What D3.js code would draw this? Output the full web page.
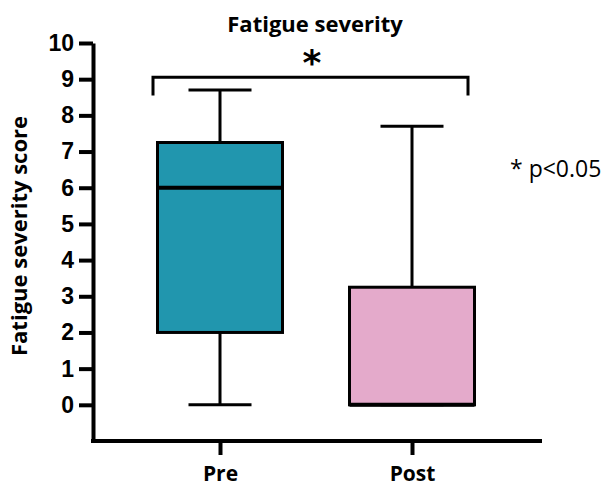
<!DOCTYPE html>
<html>
<head>
<meta charset="utf-8">
<script src="https://cdn.jsdelivr.net/npm/d3@7"></script>
<style>
  body { margin: 0; background: #fff; }
  text { fill: #000; }
</style>
</head>
<body>
<div id="chart"></div>
<script>
var width = 606,
    height = 488;

// box plot data
var groups = ["Pre", "Post"];
var whiskerLow = [0, 0];
var q1 = [2.0, 0];
var median = [6.0, 0];
var q3 = [7.25, 3.25];
var whiskerHigh = [8.7, 7.7];
var colors = ["#2196ae", "#e4aacb"];
var yTicks = [0, 1, 2, 3, 4, 5, 6, 7, 8, 9, 10];

var svg = d3.select("#chart").append("svg")
    .attr("width", width)
    .attr("height", height);

var x = d3.scalePoint()
    .domain(groups)
    .range([220, 412]);

var y = d3.scaleLinear()
    .domain([-1, 10])
    .range([441, 43]);

var boxW = 125,
    capW = 63;

// y axis
var yAxis = svg.append("g")
    .attr("transform", "translate(93,0)")
    .call(d3.axisLeft(y).tickValues(yTicks).tickSize(14).tickPadding(5).tickSizeOuter(0));
yAxis.select(".domain").attr("stroke-width", 4).attr("stroke", "#000");
yAxis.selectAll(".tick line").attr("stroke-width", 4).attr("stroke", "#000");
yAxis.selectAll(".tick text")
    .style("font-family", "'Liberation Sans', Arial, sans-serif")
    .style("font-weight", "bold")
    .style("font-size", "23px");

// x axis
var xAxis = svg.append("g")
    .attr("transform", "translate(0," + y(-1) + ")")
    .call(d3.axisBottom(x).tickSize(14).tickPadding(11).tickSizeOuter(0));
xAxis.select(".domain")
    .attr("d", "M91,0H542")
    .attr("stroke-width", 4).attr("stroke", "#000");
xAxis.selectAll(".tick line").attr("stroke-width", 4).attr("stroke", "#000");
xAxis.selectAll(".tick text")
    .style("font-family", "'Open Sans', sans-serif")
    .style("font-weight", "bold")
    .style("font-size", "21px");

// boxes
var box = svg.selectAll(".box")
    .data(groups)
    .enter().append("g")
    .attr("class", "box");

box.append("line")
    .attr("x1", function(d) { return x(d); })
    .attr("x2", function(d) { return x(d); })
    .attr("y1", function(d, i) { return y(whiskerHigh[i]); })
    .attr("y2", function(d, i) { return y(whiskerLow[i]); })
    .attr("stroke", "#000")
    .attr("stroke-width", 3);

box.append("line")
    .attr("x1", function(d) { return x(d) - capW / 2; })
    .attr("x2", function(d) { return x(d) + capW / 2; })
    .attr("y1", function(d, i) { return y(whiskerHigh[i]); })
    .attr("y2", function(d, i) { return y(whiskerHigh[i]); })
    .attr("stroke", "#000")
    .attr("stroke-width", 3);

box.append("line")
    .attr("x1", function(d) { return x(d) - capW / 2; })
    .attr("x2", function(d) { return x(d) + capW / 2; })
    .attr("y1", function(d, i) { return y(whiskerLow[i]); })
    .attr("y2", function(d, i) { return y(whiskerLow[i]); })
    .attr("stroke", "#000")
    .attr("stroke-width", 3);

box.append("rect")
    .attr("x", function(d) { return x(d) - boxW / 2; })
    .attr("width", boxW)
    .attr("y", function(d, i) { return y(q3[i]); })
    .attr("height", function(d, i) { return y(q1[i]) - y(q3[i]); })
    .attr("fill", function(d, i) { return colors[i]; })
    .attr("stroke", "#000")
    .attr("stroke-width", 3);

box.append("line")
    .attr("x1", function(d) { return x(d) - boxW / 2; })
    .attr("x2", function(d) { return x(d) + boxW / 2; })
    .attr("y1", function(d, i) { return y(median[i]); })
    .attr("y2", function(d, i) { return y(median[i]); })
    .attr("stroke", "#000")
    .attr("stroke-width", 4);

// significance bracket
var bracketTop = y(9.05),
    bracketEnd = y(8.55);
svg.append("path")
    .attr("d", "M" + (x("Pre") - 67) + "," + bracketEnd +
               "V" + bracketTop + "H" + (x("Post") + 56) + "V" + bracketEnd)
    .attr("fill", "none")
    .attr("stroke", "#000")
    .attr("stroke-width", 3);

svg.append("text")
    .attr("x", 312)
    .attr("y", 75)
    .attr("text-anchor", "middle")
    .style("font-family", "'DejaVu Sans', sans-serif")
    .style("font-weight", "bold")
    .style("font-size", "36px")
    .text("*");

// title
svg.append("text")
    .attr("x", 315)
    .attr("y", 32)
    .attr("text-anchor", "middle")
    .style("font-family", "'Open Sans', sans-serif")
    .style("font-weight", "bold")
    .style("font-size", "22px")
    .text("Fatigue severity");

// y label
svg.append("text")
    .attr("transform", "translate(27,236) rotate(-90)")
    .attr("text-anchor", "middle")
    .style("font-family", "'Open Sans', sans-serif")
    .style("font-weight", "bold")
    .style("font-size", "22px")
    .text("Fatigue severity score");

// note
svg.append("text")
    .attr("x", 510)
    .attr("y", 177)
    .style("font-family", "'Open Sans', sans-serif")
    .style("font-size", "23px")
    .text("* p<0.05");
</script>
</body>
</html>
